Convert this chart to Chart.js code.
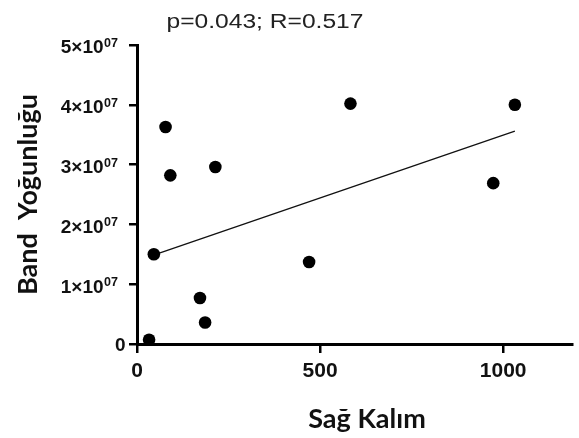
<!DOCTYPE html>
<html>
<head>
<meta charset="utf-8">
<script src="https://cdn.jsdelivr.net/npm/chart.js@4/dist/chart.umd.min.js"></script>
<style>
html,body{margin:0;padding:0;background:#fff;}
#wrap{width:579px;height:438px;position:relative;}
</style>
</head>
<body>
<div id="wrap"><canvas id="c" width="579" height="438"></canvas></div>
<script>
// Data
const survivalX = [33, 46, 78, 91, 172, 186, 214, 470, 583, 973, 1032];
const bandY = [0.07e7, 1.50e7, 3.63e7, 2.82e7, 0.77e7, 0.36e7, 2.96e7, 1.37e7, 4.02e7, 2.69e7, 4.00e7];
const fitX = [33, 1032];
const fitY = [1.46e7, 3.56e7];
const xTicks = [0, 500, 1000];
const yTickValues = [0, 1e7, 2e7, 3e7, 4e7, 5e7];
const yTickBase = ['0', '1×10', '2×10', '3×10', '4×10', '5×10'];
const yTickExp = ['', '07', '07', '07', '07', '07'];
const titleText = 'p=0.043; R=0.517';
const xTitle = 'Sağ Kalım';
const yTitle = 'Band  Yoğunluğu';

const points = survivalX.map((x, i) => ({x: x, y: bandY[i]}));
const fit = fitX.map((x, i) => ({x: x, y: fitY[i]}));

const textPlugin = {
  id: 'texts',
  afterDraw(chart) {
    const ctx = chart.ctx;
    const ys = chart.scales.y;
    ctx.save();
    ctx.fillStyle = '#222';
    // top title (slightly wide sans)
    ctx.save();
    ctx.font = '20.5px "Liberation Sans", Arial, sans-serif';
    ctx.textAlign = 'center';
    ctx.textBaseline = 'alphabetic';
    ctx.translate(265, 28);
    ctx.scale(1.2, 1);
    ctx.fillText(titleText, 0, 0);
    ctx.restore();

    // y tick labels with superscript exponent
    ctx.fillStyle = '#111';
    ctx.textBaseline = 'alphabetic';
    ctx.textAlign = 'right';
    const mainFont = 'bold 19px "Liberation Sans", Arial, sans-serif';
    const supFont = 'bold 12.5px "Liberation Sans", Arial, sans-serif';
    yTickValues.forEach((v, i) => {
      const py = ys.getPixelForValue(v);
      const right = yTickExp[i] ? 118 : 126;
      let supW = 0;
      if (yTickExp[i]) {
        ctx.font = supFont;
        supW = ctx.measureText(yTickExp[i]).width;
        ctx.fillText(yTickExp[i], right, py + 2.0);
      }
      ctx.font = mainFont;
      ctx.fillText(yTickBase[i], right - supW - 0.5, py + (yTickExp[i] ? 8.4 : 7.0));
    });

    // x axis title
    ctx.font = 'bold 27px Lato, "Open Sans", sans-serif';
    ctx.textAlign = 'center';
    ctx.fillText(xTitle, 367, 428);
    ctx.restore();
  }
};

new Chart(document.getElementById('c'), {
  type: 'scatter',
  data: {
    datasets: [
      {
        type: 'scatter',
        data: points,
        backgroundColor: '#000',
        borderColor: '#000',
        pointRadius: 6.3,
        pointHoverRadius: 6.3,
        borderWidth: 0
      },
      {
        type: 'line',
        data: fit,
        borderColor: '#111',
        borderWidth: 1.3,
        pointRadius: 0,
        fill: false,
        tension: 0
      }
    ]
  },
  options: {
    responsive: false,
    animation: false,
    layout: {padding: {top: 45, right: 0, bottom: 0, left: 0}},
    plugins: {legend: {display: false}, tooltip: {enabled: false}, title: {display: false}},
    scales: {
      x: {
        type: 'linear',
        min: 0,
        max: 1190,
        afterBuildTicks: s => { s.ticks = xTicks.map(v => ({value: v})); },
        afterFit: s => { s.height = 94; },
        border: {color: '#000', width: 3},
        grid: {drawOnChartArea: false, drawTicks: true, tickLength: 9, color: '#000', lineWidth: 2.5},
        ticks: {
          color: '#111',
          padding: 6,
          font: {family: '"Liberation Sans", Arial, sans-serif', size: 21, weight: 'bold'},
          callback: v => String(v)
        },
        title: {display: false}
      },
      y: {
        type: 'linear',
        min: 0,
        max: 5e7,
        afterBuildTicks: s => { s.ticks = yTickValues.map(v => ({value: v})); },
        afterFit: s => { s.width = 137; },
        border: {color: '#000', width: 3},
        grid: {drawOnChartArea: false, drawTicks: true, tickLength: 8, color: '#000', lineWidth: 2.5},
        ticks: {display: false},
        title: {
          display: true,
          text: yTitle,
          color: '#111',
          font: {family: 'Lato, "Open Sans", sans-serif', size: 27, weight: 'bold'},
          padding: {top: 12, bottom: 0}
        }
      }
    }
  },
  plugins: [textPlugin]
});
</script>
</body>
</html>
